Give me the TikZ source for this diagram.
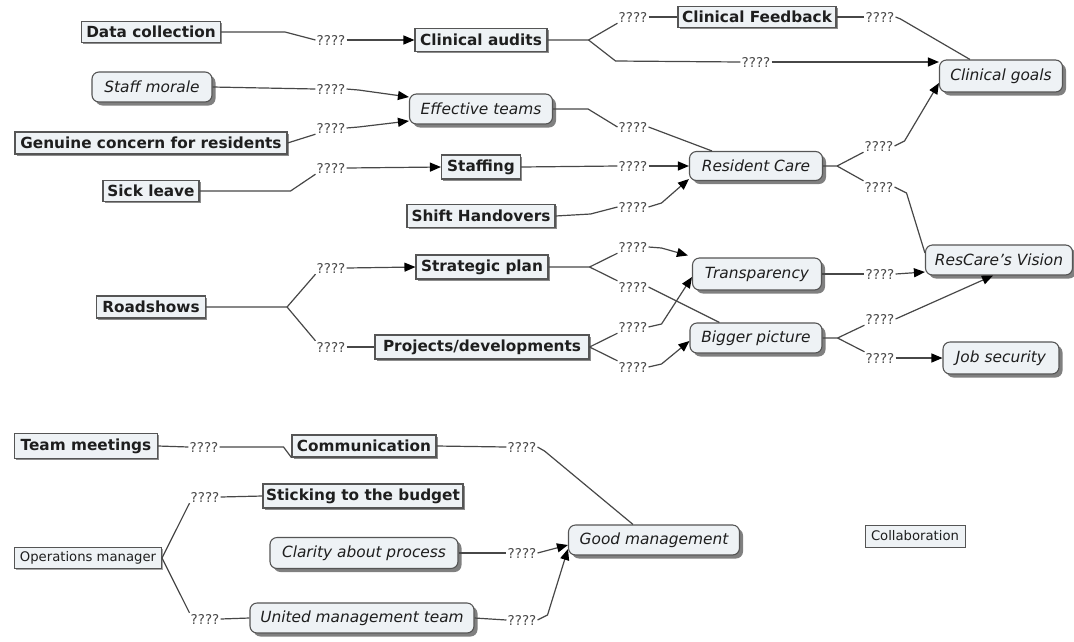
\documentclass[tikz,border=0pt]{standalone}
\usepackage{fontspec}
\setmainfont{DejaVu Sans}
\usetikzlibrary{arrows.meta,shadows}
\definecolor{boxfill}{HTML}{EEF2F5}
\definecolor{boxline}{HTML}{555555}
\definecolor{wire}{HTML}{474747}
\definecolor{labgray}{HTML}{4A4A4A}
\definecolor{txt}{HTML}{1E1E1E}
\tikzset{
  base/.style={fill=boxfill, draw=boxline, text=txt, inner sep=2pt, align=center},
  bbox/.style={base, line width=1.1pt, font=\fontsize{15.3}{17}\selectfont\bfseries,
    drop shadow={shadow xshift=1.5pt, shadow yshift=-1.5pt, fill=black!45, opacity=1}},
  pbox/.style={base, line width=1pt, font=\fontsize{13.2}{15}\selectfont,
    drop shadow={shadow xshift=1.2pt, shadow yshift=-1.2pt, fill=black!35, opacity=1}},
  rbox/.style={base, line width=1.1pt, rounded corners=7pt, font=\fontsize{15.4}{17}\selectfont\itshape,
    drop shadow={shadow xshift=3.5pt, shadow yshift=-3.5pt, fill=black!50, opacity=1}},
  lab/.style={text=labgray, font=\fontsize{13.5}{15}\selectfont, inner sep=1pt},
  ln/.style={draw=wire, line width=1.2pt},
  arr/.style={ln, -{Triangle[length=11pt,width=9pt,color=black]}},
}
\begin{document}
\begin{tikzpicture}[x=1pt, y=-1pt]
\useasboundingbox (0,0) rectangle (1074,641);

% ---- concepts ----
\node[bbox, minimum width=139pt, minimum height=21pt] (dc)  at (151,32)  {Data collection};
\node[bbox, minimum width=132pt, minimum height=23pt] (ca)  at (481,40)  {Clinical audits};
\node[bbox, minimum width=158pt, minimum height=21pt] (cf)  at (757,17)  {Clinical Feedback};
\node[rbox, minimum width=120pt, minimum height=30pt] (sm)  at (152,87)  {Staff morale};
\node[rbox, minimum width=143pt, minimum height=30pt] (et)  at (481,109) {Effective teams};
\node[bbox, minimum width=272pt, minimum height=22pt] (gc)  at (151,143) {Genuine concern for residents};
\node[bbox, minimum width=96pt,  minimum height=21pt] (sl)  at (151,191) {Sick leave};
\node[bbox, minimum width=79pt,  minimum height=24pt] (st)  at (481,167) {Staffing};
\node[rbox, minimum width=133pt, minimum height=29pt] (rc)  at (756,166) {Resident Care};
\node[rbox, minimum width=123pt, minimum height=32pt] (cg)  at (1001,76) {Clinical goals};
\node[bbox, minimum width=148pt, minimum height=23pt] (sh)  at (481,216) {Shift Handovers};
\node[bbox, minimum width=132pt, minimum height=24pt] (sp)  at (482,267) {Strategic plan};
\node[bbox, minimum width=109pt, minimum height=22pt] (rs)  at (151,307) {Roadshows};
\node[rbox, minimum width=129pt, minimum height=32pt] (tr)  at (757,274) {Transparency};
\node[rbox, minimum width=147pt, minimum height=30pt] (rv)  at (999,260) {ResCare's Vision};
\node[bbox, minimum width=214pt, minimum height=24pt] (pd)  at (482,347) {Projects/developments};
\node[rbox, minimum width=132pt, minimum height=30pt] (bp)  at (756,338) {Bigger picture};
\node[rbox, minimum width=116pt, minimum height=32pt] (js)  at (1001,358) {Job security};
\node[bbox, minimum width=143pt, minimum height=25pt] (tm)  at (86,446)  {Team meetings};
\node[bbox, minimum width=144pt, minimum height=22pt] (co)  at (364,446) {Communication};
\node[bbox, minimum width=200pt, minimum height=24pt] (stb) at (363,496) {Sticking to the budget};
\node[pbox, minimum width=147pt, minimum height=21pt] (om)  at (88,558)  {Operations manager};
\node[rbox, minimum width=188pt, minimum height=31pt] (cap) at (364,553) {Clarity about process};
\node[rbox, minimum width=224pt, minimum height=30pt] (umt) at (362,618) {United management team};
\node[rbox, minimum width=171pt, minimum height=30pt] (gm)  at (654,540) {Good management};
\node[pbox, minimum width=100pt, minimum height=22pt] (col) at (915,536) {Collaboration};

% ---- link labels ----
\node[lab] (l1)  at (331,40)  {????};
\node[lab] (l2)  at (633,17)  {????};
\node[lab] (l3)  at (756,62)  {????};
\node[lab] (l4)  at (880,17)  {????};
\node[lab] (l5)  at (331,89)  {????};
\node[lab] (l6)  at (331,128) {????};
\node[lab] (l7)  at (633,127) {????};
\node[lab] (l8)  at (331,168) {????};
\node[lab] (l9)  at (633,166) {????};
\node[lab] (l10) at (633,207) {????};
\node[lab] (l11) at (879,146) {????};
\node[lab] (l12) at (879,187) {????};
\node[lab] (l13) at (331,268) {????};
\node[lab] (l14) at (331,347) {????};
\node[lab] (l15) at (633,247) {????};
\node[lab] (l16) at (633,287) {????};
\node[lab] (l17) at (633,327) {????};
\node[lab] (l18) at (633,367) {????};
\node[lab] (l19) at (880,274) {????};
\node[lab] (l20) at (880,319) {????};
\node[lab] (l21) at (880,358) {????};
\node[lab] (l22) at (204,447) {????};
\node[lab] (l23) at (522,447) {????};
\node[lab] (l24) at (205,497) {????};
\node[lab] (l25) at (205,619) {????};
\node[lab] (l26) at (522,553) {????};
\node[lab] (l27) at (522,620) {????};

% ---- links ----
\draw[ln]  (dc.east) -- ++(64,0) -- (l1.west);
\draw[arr] (l1.east) -- (ca.west);

\draw[ln]  (ca.east) -- ++(41,0) coordinate (b1) -- (l2.south west);
\draw[ln]  (l2.east) -- (cf.west);
\draw[ln]  (b1) -- ++(27,21) -- (l3.west);
\draw[arr] (l3.east) -- ([yshift=14pt]cg.west);

\draw[ln]  (cf.east) -- (l4.west);
\draw[ln]  (l4.east) -- ++(5,2) -- ([xshift=31pt]cg.north west);

\draw[ln]  (sm.east) -- (l5.west);
\draw[arr] (l5.east) -- ++(12,1) -- ([yshift=12pt]et.west);
\draw[ln]  (gc.east) -- (l6.south west);
\draw[arr] (l6.east) -- ++(12,-1) -- ([yshift=-12pt]et.west);

\draw[ln]  (et.east) -- ++(35,0) -- (l7.west);
\draw[ln]  (l7.east) -- ([xshift=23pt]rc.north west);

\draw[ln]  (sl.east) -- ++(91,0) -- (l8.south west);
\draw[arr] (l8.east) -- (st.west);
\draw[ln]  (st.east) -- (l9.west);
\draw[arr] (l9.east) -- (rc.west);
\draw[ln]  (sh.east) -- ++(35,-2) -- (l10.west);
\draw[arr] (l10.east) -- ++(13,-4) -- ([yshift=-13pt]rc.west);

\draw[ln]  (rc.east) -- ++(14,0) coordinate (b2) -- (l11.south west);
\draw[arr] (l11.east) -- ++(10,-5) -- ([yshift=-7pt]cg.west);
\draw[ln]  (b2) -- (l12.north west);
\draw[ln]  (l12.east) -- ++(12,6) -- ([yshift=7pt]rv.west);

\draw[ln]  (rs.east) -- ++(81,0) coordinate (b3) -- (l13.south west);
\draw[arr] (l13.east) -- (sp.west);
\draw[ln]  (b3) -- (l14.north west);
\draw[ln]  (l14.east) -- (pd.west);

\draw[ln]  (sp.east) -- ++(41,0) coordinate (b4) -- (l15.south west);
\draw[arr] (l15.east) -- ++(13,1) -- ([xshift=-4pt,yshift=2pt]tr.north west);
\draw[ln]  (b4) -- (l16.north west);
\draw[ln]  (l16.east) -- ([xshift=30pt]bp.north west);

\draw[ln]  (pd.east) -- (l17.south west);
\draw[arr] (l17.east) -- ++(13,-3) -- ([yshift=-3pt]tr.west);
\draw[ln]  (pd.east) -- (l18.north west);
\draw[arr] (l18.east) -- ++(13,-3) -- ([yshift=-3pt]bp.west);

\draw[ln]  (tr.east) -- (l19.west);
\draw[arr] (l19.east) -- ([yshift=-12pt]rv.west);
\draw[ln]  (bp.east) -- ++(15,0) coordinate (b5) -- (l20.south west);
\draw[arr] (l20.east) -- ([xshift=-6pt]rv.south);
\draw[ln]  (b5) -- (l21.north west);
\draw[arr] (l21.east) -- (js.west);

\draw[ln]  (tm.east) -- (l22.west);
\draw[ln]  (l22.east) -- ++(64,0) -- (co.south west);
\draw[ln]  (co.east) -- (l23.west);
\draw[ln]  (l23.east) -- ++(7,4) -- ([xshift=-21pt]gm.north);

\draw[ln]  (om.east) -- (l24.south west);
\draw[ln]  (l24.east) -- (stb.west);
\draw[ln]  (om.east) -- (l25.north west);
\draw[ln]  (l25.east) -- (umt.west);

\draw[ln]  (cap.east) -- (l26.west);
\draw[arr] (l26.east) -- ([yshift=-5pt]gm.west);
\draw[ln]  (umt.east) -- (l27.west);
\draw[arr] (l27.east) -- ++(10,-5) -- ([yshift=-9pt]gm.west);
\end{tikzpicture}
\end{document}
